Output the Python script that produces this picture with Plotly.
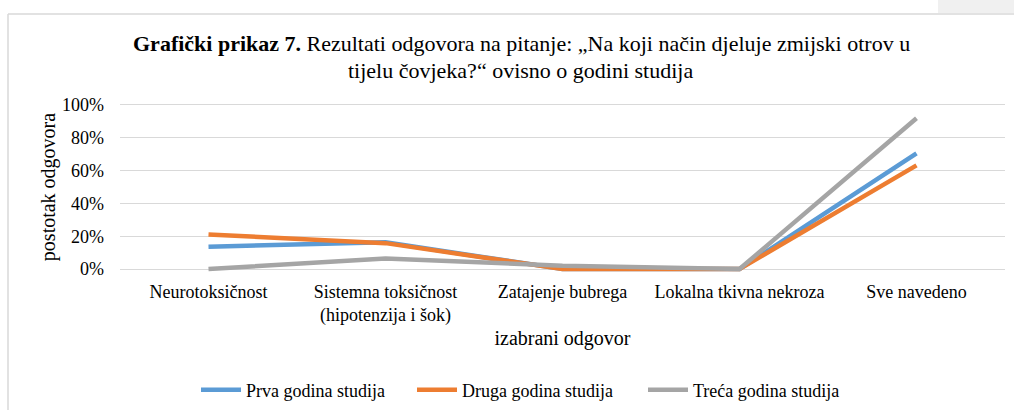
import plotly.graph_objects as go

# ---- data ----
categories = ["Neurotoksičnost", "Sistemna toksičnost<br>(hipotenzija i šok)",
              "Zatajenje bubrega", "Lokalna tkivna nekroza", "Sve navedeno"]
prva = [0.136, 0.163, 0.0, 0.0, 0.705]
druga = [0.211, 0.158, 0.0, 0.0, 0.632]
treca = [0.0, 0.065, 0.02, 0.0, 0.919]
series_names = ["Prva godina studija", "Druga godina studija", "Treća godina studija"]
y_ticks = [0, 0.2, 0.4, 0.6, 0.8, 1.0]
y_ticklabels = ["0%", "20%", "40%", "60%", "80%", "100%"]
title_line1 = "<b>Grafički prikaz 7.</b> Rezultati odgovora na pitanje: „Na koji način djeluje zmijski otrov u"
title_line2 = "tijelu čovjeka?“ ovisno o godini studija"

colors = ["#5B9BD5", "#ED7D31", "#A5A5A5"]
FONT = "Liberation Serif"
BLACK = "#000000"

W, H = 1014, 410
ML, MR, MT, MB = 120, 9, 100, 136
PW, PH = W - ML - MR, H - MT - MB


def xp(px):
    return (px - ML) / PW


def yp(py):
    return (H - MB - py) / PH


legend_ids = ["legend", "legend2", "legend3"]
legend_left_px = [203, 419, 650]

fig = go.Figure()
for name, vals, col, lid in zip(series_names, [prva, druga, treca], colors, legend_ids):
    fig.add_trace(go.Scatter(x=categories, y=vals, mode="lines", name=name, legend=lid,
                             line=dict(color=col, width=4.5)))

legend_common = dict(orientation="h", xanchor="left", yanchor="middle",
                     font=dict(size=18, family=FONT, color=BLACK), itemwidth=40,
                     bgcolor="rgba(0,0,0,0)")

layout_legends = {}
for lid, lx in zip(legend_ids, legend_left_px):
    layout_legends[lid] = dict(legend_common, x=xp(lx - 7), y=yp(390))

fig.update_layout(
    width=W, height=H,
    margin=dict(l=ML, r=MR, t=MT, b=MB, pad=0, autoexpand=False),
    paper_bgcolor="white", plot_bgcolor="white",
    font=dict(family=FONT, size=18, color=BLACK),
    showlegend=True,
    xaxis=dict(type="category", range=[-0.5, 4.5], showgrid=False, zeroline=False,
               showline=False, ticks="",
               tickfont=dict(size=18, family=FONT, color=BLACK), ticklabelstandoff=5,
               title=dict(text="izabrani odgovor", font=dict(size=20, family=FONT, color=BLACK),
                          standoff=5)),
    yaxis=dict(range=[-0.03, 1.03], tickvals=y_ticks, ticktext=y_ticklabels,
               showgrid=True, gridcolor="#D9D9D9", gridwidth=1.3, zeroline=False,
               showline=False, ticks="",
               tickfont=dict(size=18, family=FONT, color=BLACK), ticklabelstandoff=15,
               title=dict(text="postotak odgovora", font=dict(size=20, family=FONT, color=BLACK),
                          standoff=1)),
    annotations=[
        dict(text=title_line1, xref="paper", yref="paper", x=xp(521), y=yp(44),
             xanchor="center", yanchor="middle", showarrow=False,
             font=dict(size=22, family=FONT, color=BLACK)),
        dict(text=title_line2, xref="paper", yref="paper", x=xp(520), y=yp(71),
             xanchor="center", yanchor="middle", showarrow=False,
             font=dict(size=22, family=FONT, color=BLACK)),
    ],
    shapes=[
        dict(type="rect", xref="paper", yref="paper", x0=xp(938), x1=xp(1020), y0=yp(13), y1=yp(-5),
             fillcolor="#F0F0F0", line=dict(width=0), layer="below"),
        dict(type="line", xref="paper", yref="paper", x0=xp(8), x1=xp(1020), y0=yp(14), y1=yp(14),
             line=dict(color="#D9D9D9", width=1.5)),
        dict(type="line", xref="paper", yref="paper", x0=xp(8), x1=xp(8), y0=yp(14), y1=yp(420),
             line=dict(color="#D9D9D9", width=1.5)),
    ],
    **layout_legends,
)

fig.write_html("out.html", config={"displayModeBar": False},
               post_script="document.body.style.margin='0';")
